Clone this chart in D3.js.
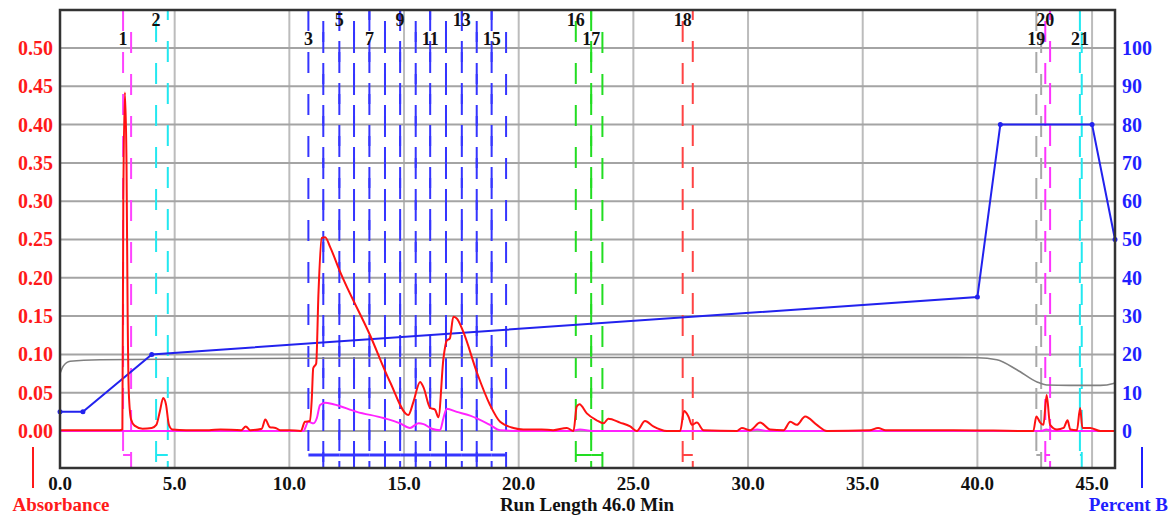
<!DOCTYPE html>
<html>
<head>
<meta charset="utf-8">
<script src="https://cdn.jsdelivr.net/npm/d3@7"></script>
<style>
  body { margin: 0; background: #fff; }
  svg text { font-family: "Liberation Serif", "Times New Roman", serif; font-weight: bold; }
</style>
</head>
<body>
<svg id="chart" width="1170" height="517"></svg>
<script>
// absorbance trace (red), minutes / AU
const redTime = [0, 1, 2, 2.6, 2.72, 2.76, 2.83, 2.9, 2.95, 3.0, 3.1, 3.25, 3.6, 4.0, 4.2, 4.35, 4.5, 4.62, 4.75, 4.9, 5.5, 6.5, 7.0, 7.9, 8.1, 8.3, 8.8, 8.95, 9.15, 9.4, 9.6, 10.0, 10.5, 10.68, 10.9, 10.98, 11.04, 11.17, 11.27, 11.41, 11.56, 11.78, 12.21, 13.52, 14.39, 15.19, 15.41, 15.7, 15.85, 16.14, 16.35, 16.5, 16.72, 16.86, 17.0, 17.15, 17.3, 17.59, 18.17, 18.75, 19.19, 19.77, 20.2, 21.0, 21.5, 22.1, 22.39, 22.53, 22.65, 22.97, 23.4, 23.7, 23.91, 24.42, 24.86, 25.15, 25.51, 25.87, 26.46, 27.04, 27.21, 27.4, 27.55, 27.77, 28.06, 29.51, 29.73, 30.09, 30.53, 30.96, 31.55, 31.84, 32.13, 32.49, 33.0, 33.44, 35.3, 35.67, 36.0, 38.95, 42.44, 42.57, 42.74, 42.88, 43.02, 43.17, 43.47, 43.76, 43.93, 44.05, 44.34, 44.48, 44.58, 44.92, 45.36, 46]
const redAbs = [0.001, 0.001, 0.001, 0.001, 0.002, 0.30, 0.442, 0.35, 0.15, 0.05, 0.015, 0.007, 0.003, 0.004, 0.008, 0.025, 0.043, 0.035, 0.008, 0.002, 0.001, 0.001, 0.002, 0.001, 0.006, 0.001, 0.003, 0.015, 0.005, 0.004, 0.001, 0.001, 0.0, 0.012, 0.013, 0.043, 0.082, 0.088, 0.18, 0.252, 0.253, 0.24, 0.208, 0.125, 0.064, 0.021, 0.038, 0.064, 0.057, 0.030, 0.028, 0.018, 0.095, 0.118, 0.121, 0.149, 0.147, 0.129, 0.077, 0.034, 0.012, 0.004, 0.002, 0.002, 0.001, 0.004, 0.0, 0.032, 0.035, 0.023, 0.014, 0.010, 0.016, 0.011, 0.006, 0.0, 0.013, 0.006, 0.0, 0.0, 0.026, 0.019, 0.008, 0.011, 0.001, 0.0, 0.004, 0.001, 0.011, 0.002, 0.001, 0.012, 0.008, 0.019, 0.008, 0.0, 0.001, 0.004, 0.001, 0.001, 0.0, 0.019, 0.011, 0.008, 0.047, 0.008, 0.002, 0.004, 0.014, 0.002, 0.001, 0.030, 0.004, 0.004, 0.0, 0.0]

// second absorbance channel (magenta)
const magTime = [0, 10.61, 10.83, 11.05, 11.2, 11.34, 11.56, 11.92, 12.94, 14.1, 14.83, 15.26, 15.63, 15.85, 16.21, 16.57, 16.72, 16.86, 17.3, 17.88, 18.75, 19.19, 20.2, 22.3, 22.67, 23.2, 30.0, 30.4, 30.8, 42.8, 43.0, 43.3, 46]
const magAbs = [0, 0, 0.012, 0.010, 0.017, 0.034, 0.037, 0.035, 0.025, 0.017, 0.010, 0.004, 0.010, 0.009, 0.003, 0.001, 0.017, 0.029, 0.025, 0.020, 0.008, 0.001, 0.0, 0.0, 0.002, 0.0, 0.0, 0.002, 0.0, 0.0, 0.002, 0.0, 0.0]

// conductivity-like trace (grey), drawn on the absorbance scale
const greyTime = [0, 0.15, 0.44, 1.75, 10.5, 20, 30, 40, 40.85, 41.72, 42.6, 43.03, 44.0, 45.36, 45.93, 46]
const greyAbs = [0.075, 0.085, 0.091, 0.093, 0.095, 0.096, 0.096, 0.0957, 0.093, 0.08, 0.064, 0.060, 0.0595, 0.0595, 0.062, 0.063]

// gradient program (percent B)
const gradTime = [0, 1, 4, 40, 41, 45, 46]
const gradPct = [5, 5, 20, 35, 80, 80, 50]

// fractions
const fracNum = [1, 2, 3, 4, 5, 6, 7, 8, 9, 10, 11, 12, 13, 14, 15, 16, 17, 18, 19, 20, 21]
const fracStart = [2.75, 4.19, 10.83, 11.48, 12.18, 12.82, 13.49, 14.17, 14.83, 15.51, 16.14, 16.83, 17.52, 18.17, 18.82, 22.49, 23.16, 27.15, 42.57, 42.96, 44.47]
const fracEnd = [3.10, 4.70, 11.48, 12.18, 12.82, 13.49, 14.17, 14.83, 15.51, 16.14, 16.83, 17.52, 18.17, 18.82, 19.45, 23.16, 23.65, 27.59, 42.78, 43.17, 44.55]
const fracShown = [1, 2, 3, 5, 7, 9, 11, 13, 15, 16, 17, 18, 19, 20, 21]

const absTicks = [0, 0.05, 0.1, 0.15, 0.2, 0.25, 0.3, 0.35, 0.4, 0.45, 0.5]
const pctTicks = [0, 10, 20, 30, 40, 50, 60, 70, 80, 90, 100]
const timeTicks = [0, 5, 10, 15, 20, 25, 30, 35, 40, 45]

// fraction colours by collection group
const fracColor = n => n <= 1 ? '#ff44ff' : n === 2 ? '#22e8f0' : n <= 15 ? '#3535ff'
  : n <= 17 ? '#22dd22' : n === 18 ? '#ff4444' : n === 19 ? '#a8a8a8' : n === 20 ? '#ff33ff' : '#22e8f0'

const pL = 60, pR = 1115, pT = 10, pB = 468
const svg = d3.select('#chart')

const x = d3.scaleLinear().domain([0, 46]).range([pL, pR])
const y = d3.scaleLinear().domain([-0.0483, 0.5496]).range([pB, pT])
const yB = d3.scaleLinear().domain([-9.66, 109.92]).range([pB, pT])

// grid
svg.append('g').selectAll('line').data(timeTicks.slice(1)).enter().append('line')
  .attr('x1', d => x(d)).attr('x2', d => x(d)).attr('y1', pT).attr('y2', pB)
  .attr('stroke', '#bcbcbc').attr('stroke-width', 2)
svg.append('g').selectAll('line').data(absTicks).enter().append('line')
  .attr('x1', pL).attr('x2', pR).attr('y1', d => y(d)).attr('y2', d => y(d))
  .attr('stroke', '#a4a4a4').attr('stroke-width', 2)

// fraction markers
const phase = [0, 20, 31, 11]
const fracLines = []
fracNum.forEach((n, i) => {
  fracLines.push({ t: fracStart[i], n, k: fracLines.length })
  fracLines.push({ t: fracEnd[i], n, k: fracLines.length })
})
svg.append('g').selectAll('line').data(fracLines).enter().append('line')
  .attr('x1', d => x(d.t)).attr('x2', d => x(d.t)).attr('y1', pT).attr('y2', pB)
  .attr('stroke', d => fracColor(d.n)).attr('stroke-width', 2)
  .attr('stroke-dasharray', '21,21')
  .attr('stroke-dashoffset', d => phase[d.k % 4])

// collection brackets at the bottom
svg.append('g').selectAll('line').data(fracNum).enter().append('line')
  .attr('x1', (d, i) => x(fracStart[i])).attr('x2', (d, i) => x(fracEnd[i]))
  .attr('y1', 455).attr('y2', 455)
  .attr('stroke', d => fracColor(d))
  .attr('stroke-width', d => (d >= 3 && d <= 15) ? 3 : 2)

// fraction numbers, alternating rows
svg.append('g').selectAll('text').data(fracShown).enter().append('text')
  .attr('x', d => x(fracStart[fracNum.indexOf(d)]))
  .attr('y', (d, i) => i % 2 === 0 ? 45 : 26)
  .attr('text-anchor', 'middle').attr('font-size', 18).attr('fill', '#111')
  .text(d => d)

// traces
const line = (xs, ys, sc) => d3.line().curve(d3.curveMonotoneX)
  .x((d, i) => x(xs[i])).y((d, i) => sc(ys[i]))(xs)

svg.append('path').attr('d', line(greyTime, greyAbs, y))
  .attr('fill', 'none').attr('stroke', '#808080').attr('stroke-width', 1.6)

svg.append('path').attr('d', d3.line().x((d, i) => x(gradTime[i])).y((d, i) => yB(gradPct[i]))(gradTime))
  .attr('fill', 'none').attr('stroke', '#2222ee').attr('stroke-width', 2)
svg.append('g').selectAll('circle').data(gradTime).enter().append('circle')
  .attr('cx', d => x(d)).attr('cy', (d, i) => yB(gradPct[i])).attr('r', 2.5)
  .attr('fill', '#2222ee')

svg.append('path').attr('d', line(magTime, magAbs, y))
  .attr('fill', 'none').attr('stroke', '#ff22ff').attr('stroke-width', 2)
svg.append('path').attr('d', line(redTime, redAbs, y))
  .attr('fill', 'none').attr('stroke', '#ff1111').attr('stroke-width', 2)

// frame
svg.append('rect').attr('x', pL).attr('y', pT).attr('width', pR - pL).attr('height', pB - pT)
  .attr('fill', 'none').attr('stroke', '#333').attr('stroke-width', 2.5)

// axes labels
svg.append('g').selectAll('text').data(absTicks).enter().append('text')
  .attr('x', 53).attr('y', d => y(d) + 7).attr('text-anchor', 'end')
  .attr('font-size', 20).attr('fill', '#ff1a1a').text(d => d.toFixed(2))
svg.append('g').selectAll('text').data(pctTicks).enter().append('text')
  .attr('x', 1122).attr('y', d => yB(d) + 7).attr('text-anchor', 'start')
  .attr('font-size', 20).attr('fill', '#1f1fff').text(d => d)
svg.append('g').selectAll('text').data(timeTicks).enter().append('text')
  .attr('x', d => x(d)).attr('y', 490).attr('text-anchor', 'middle')
  .attr('font-size', 19).attr('fill', '#111').text(d => d.toFixed(1))

svg.append('line').attr('x1', 33).attr('x2', 33).attr('y1', 447).attr('y2', 488)
  .attr('stroke', '#ff1a1a').attr('stroke-width', 2)
svg.append('line').attr('x1', 1142).attr('x2', 1142).attr('y1', 447).attr('y2', 488)
  .attr('stroke', '#1f1fff').attr('stroke-width', 2)

svg.append('text').attr('x', 61).attr('y', 511).attr('text-anchor', 'middle')
  .attr('font-size', 19).attr('fill', '#ff1a1a').text('Absorbance')
svg.append('text').attr('x', 587).attr('y', 511).attr('text-anchor', 'middle')
  .attr('font-size', 19).attr('fill', '#111').text('Run Length 46.0 Min')
svg.append('text').attr('x', 1168).attr('y', 511).attr('text-anchor', 'end')
  .attr('font-size', 19).attr('fill', '#1f1fff').text('Percent B')
</script>
</body>
</html>
